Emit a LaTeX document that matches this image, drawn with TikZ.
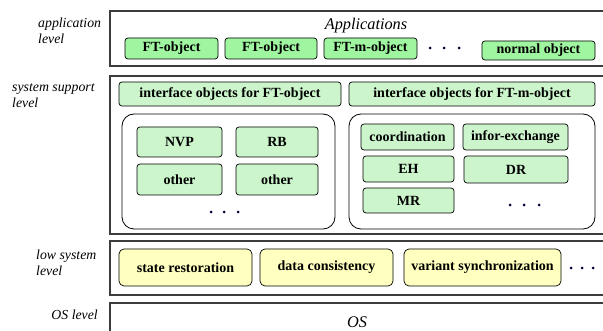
\documentclass[tikz,border=0pt]{standalone}
\usepackage{fontspec}
\setmainfont{Liberation Serif}
\definecolor{appgreen}{RGB}{160,245,160}
\definecolor{supgreen}{RGB}{204,245,204}
\definecolor{lowyellow}{RGB}{255,255,192}
\definecolor{framegray}{RGB}{60,60,60}
\tikzset{
  layer/.style={draw=framegray, line width=1.3pt},
  container/.style={draw=black, line width=0.8pt, rounded corners=12pt},
  obj/.style={draw=black, line width=0.7pt, rounded corners=3pt, inner sep=0pt,
    font=\fontsize{14}{15}\selectfont\bfseries},
  appobj/.style={obj, fill=appgreen},
  supobj/.style={obj, fill=supgreen},
  lowobj/.style={obj, fill=lowyellow, rounded corners=5pt},
  lvl/.style={font=\fontsize{13.8}{16}\selectfont\itshape, align=left, anchor=north west, inner sep=0pt},
  title/.style={font=\fontsize{16.3}{17}\selectfont\itshape, inner sep=0pt},
  dot/.style={circle, fill=black!80!blue, inner sep=0pt, minimum size=3pt}
}
\begin{document}
\begin{tikzpicture}[x=1pt,y=-1pt]
\useasboundingbox (0,0) rectangle (603,331);
\fill[white] (0,0) rectangle (603,331);
% layer frames
\draw[layer] (110,11) rectangle (604,66);
\draw[layer] (110,76) rectangle (604,234);
\draw[layer] (110,241) rectangle (604,295);
\draw[layer] (110,303) rectangle (604,335);
% level labels
\node[lvl] (lapp) at (38,18) {application\\level};
\node[lvl] (lsys) at (12,84) {system support\\level};
\node[lvl] (llow) at (36,250) {low system\\level};
\node[lvl, anchor=north east] (los) at (98,310) {OS level};
% application level
\node[title] (apps) at (366,26) {Applications};
\node[appobj, minimum width=93, minimum height=21] (ft1) at (171.5,48.5) {FT-object};
\node[appobj, minimum width=92, minimum height=21] (ft2) at (271,48.5) {FT-object};
\node[appobj, minimum width=93, minimum height=21] (ftm) at (370.5,48.5) {FT-m-object};
\node[dot] (ad1) at (430,48) {};
\node[dot] (ad2) at (444,48) {};
\node[dot] (ad3) at (459,48) {};
\node[appobj, minimum width=113, minimum height=19] (norm) at (538.5,50.5) {\raisebox{-2pt}{normal object}};
% system support level
\node[supobj, minimum width=222, minimum height=24] (iff) at (230,94) {interface objects for FT-object};
\node[supobj, minimum width=246, minimum height=24] (ifm) at (472,94) {interface objects for FT-m-object};
\node[container, minimum width=213, minimum height=115] (cl) at (228.5,171.5) {};
\node[container, minimum width=246, minimum height=115] (cr) at (472,171.5) {};
\node[supobj, minimum width=85, minimum height=30] (nvp) at (179.5,142) {NVP};
\node[supobj, minimum width=82, minimum height=30] (rb) at (277,142) {RB};
\node[supobj, minimum width=85, minimum height=31] (oth1) at (179.5,179.5) {other};
\node[supobj, minimum width=82, minimum height=31] (oth2) at (277,179.5) {other};
\node[dot] (ld1) at (211,212) {};
\node[dot] (ld2) at (224,212) {};
\node[dot] (ld3) at (238,212) {};
\node[supobj, minimum width=93, minimum height=26] (coord) at (407.5,137) {coordination};
\node[supobj, minimum width=105, minimum height=26] (infor) at (515.5,137) {infor-exchange};
\node[supobj, minimum width=91, minimum height=26] (eh) at (408.5,169) {EH};
\node[supobj, minimum width=104, minimum height=27] (dr) at (516,169.5) {DR};
\node[supobj, minimum width=91, minimum height=25] (mr) at (408.5,200.5) {MR};
\node[dot] (rd1) at (510,205) {};
\node[dot] (rd2) at (524,205) {};
\node[dot] (rd3) at (539,205) {};
% low system level
\node[lowobj, minimum width=133, minimum height=37] (sr) at (185.5,267.5) {state restoration};
\node[lowobj, minimum width=133, minimum height=37] (dc) at (326.5,267.5) {data consistency};
\node[lowobj, minimum width=157, minimum height=37] (vs) at (482.5,267.5) {variant synchronization};
\node[dot] (wd1) at (571,268) {};
\node[dot] (wd2) at (582,268) {};
\node[dot] (wd3) at (593,268) {};
% OS level
\node[title] (os) at (357,322) {OS};
\end{tikzpicture}
\end{document}
